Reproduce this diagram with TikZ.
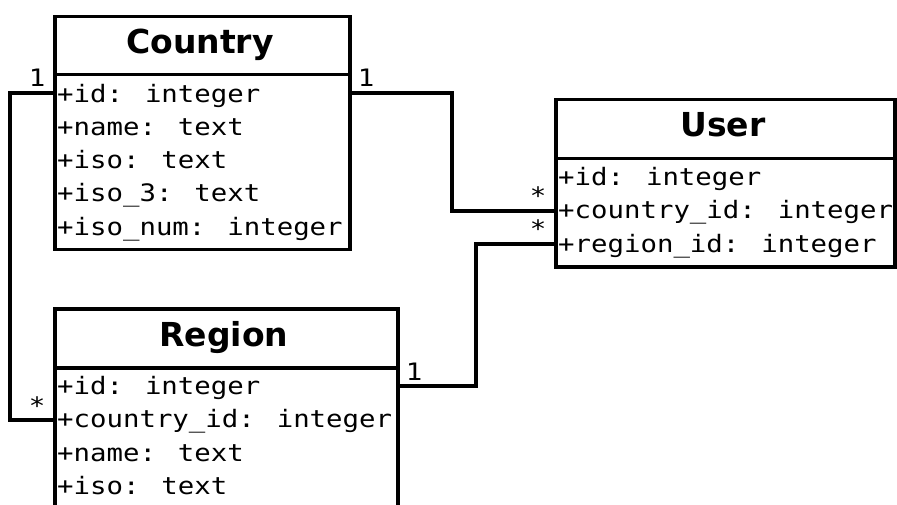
\documentclass[tikz,border=0pt]{standalone}
\usepackage{fontspec}
\setmainfont{DejaVu Sans}
\newfontfamily\attrfont[FakeStretch=1.14]{DejaVu Sans Mono}
\begin{document}
\begin{tikzpicture}[x=1pt,y=-1pt,
  classbox/.style={draw, line width=3.5pt, anchor=north west, inner sep=0pt, fill=white},
  title/.style={font=\fontsize{33}{36}\selectfont\bfseries, anchor=base, inner sep=0pt},
  attr/.style={font=\attrfont\fontsize{24}{28}\selectfont, anchor=base west, inner sep=0pt},
  mult/.style={font=\attrfont\fontsize{24}{28}\selectfont, anchor=base, inner sep=0pt},
  conn/.style={line width=3.5pt}]
\useasboundingbox (0,0) rectangle (897,505);
\clip (0,0) rectangle (897,505);

% Country
\node[classbox, minimum width=295pt, minimum height=233pt] (country) at (53,15) {};
\node[classbox, minimum width=295pt, minimum height=58pt] (countryhead) at (53,15) {};
\node[title] (countrytitle) at (200,54) {Country};
\node[attr] (c1) at (57,103) {+id: integer};
\node[attr] (c2) at (57,136) {+name: text};
\node[attr] (c3) at (57,169) {+iso: text};
\node[attr] (c4) at (57,202) {+iso\_3: text};
\node[attr] (c5) at (57,236) {+iso\_num: integer};

% User
\node[classbox, minimum width=339pt, minimum height=167pt] (user) at (554,98) {};
\node[classbox, minimum width=339pt, minimum height=59pt] (userhead) at (554,98) {};
\node[title] (usertitle) at (723,137) {User};
\node[attr] (u1) at (558,186) {+id: integer};
\node[attr] (u2) at (558,219) {+country\_id: integer};
\node[attr] (u3) at (558,252) {+region\_id: integer};

% Region
\node[classbox, minimum width=343pt, minimum height=223pt] (region) at (53,307) {};
\node[classbox, minimum width=343pt, minimum height=59pt] (regionhead) at (53,307) {};
\node[title] (regiontitle) at (224,346) {Region};
\node[attr] (r1) at (57,394) {+id: integer};
\node[attr] (r2) at (57,427) {+country\_id: integer};
\node[attr] (r3) at (57,461) {+name: text};
\node[attr] (r4) at (57,494) {+iso: text};

% connectors
\coordinate (p1) at (10,93);
\coordinate (p2) at (10,420);
\draw[conn] (country.west |- p1) -- (p1) -- (p2) -- (region.west |- p2);
\coordinate (q1) at (452,93);
\coordinate (q2) at (452,211);
\draw[conn] (country.east |- q1) -- (q1) -- (q2) -- (user.west |- q2);
\coordinate (s1) at (476,244);
\coordinate (s2) at (476,386);
\draw[conn] (user.west |- s1) -- (s1) -- (s2) -- (region.east |- s2);

% multiplicities
\node[mult] (m1) at (37,87) {1};
\node[mult] (m2) at (37,414) {*};
\node[mult] (m3) at (366,87) {1};
\node[mult] (m4) at (538,205) {*};
\node[mult] (m5) at (538,238) {*};
\node[mult] (m6) at (414,380) {1};
\end{tikzpicture}
\end{document}
